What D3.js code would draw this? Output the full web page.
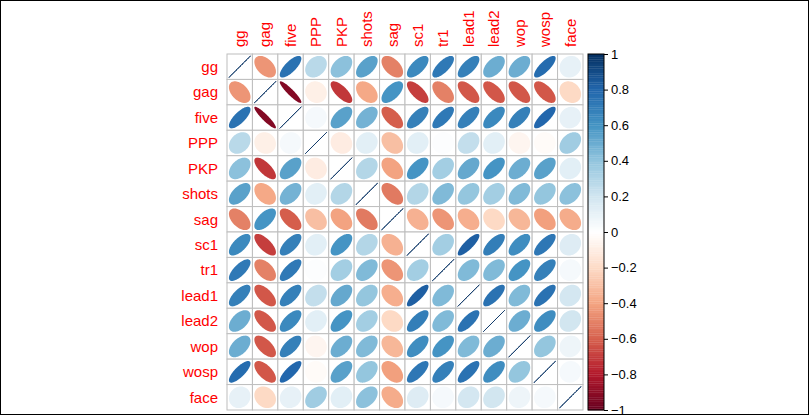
<!DOCTYPE html>
<html><head><meta charset="utf-8">
<script src="https://cdn.jsdelivr.net/npm/d3@7"></script>
<style>body{margin:0;background:#fff}svg{display:block}</style>
</head><body>
<svg id="chart" width="809" height="415"></svg>
<script>
const vars = ["gg","gag","five","PPP","PKP","shots","sag","sc1","tr1","lead1","lead2","wop","wosp","face"];
const r_gg    = [1, -0.45, 0.75, 0.28, 0.42, 0.55, -0.5, 0.65, 0.72, 0.68, 0.5, 0.5, 0.78, 0.1];
const r_gag   = [-0.45, 1, -0.92, -0.08, -0.72, -0.38, 0.6, -0.7, -0.5, -0.62, -0.62, -0.62, -0.62, -0.2];
const r_five  = [0.75, -0.92, 1, 0.05, 0.55, 0.48, -0.6, 0.68, 0.72, 0.68, 0.65, 0.68, 0.8, 0.1];
const r_PPP   = [0.28, -0.08, 0.05, 1, -0.1, 0.12, -0.3, 0.12, 0.02, 0.25, 0.13, -0.05, -0.02, 0.36];
const r_PKP   = [0.42, -0.72, 0.55, -0.1, 1, 0.3, -0.4, 0.6, 0.35, 0.52, 0.6, 0.5, 0.55, 0.13];
const r_shots = [0.55, -0.38, 0.48, 0.12, 0.3, 1, -0.52, 0.3, 0.45, 0.4, 0.35, 0.45, 0.4, 0.42];
const r_sag   = [-0.5, 0.6, -0.6, -0.3, -0.4, -0.52, 1, -0.35, -0.45, -0.36, -0.2, -0.33, -0.42, -0.37];
const r_sc1   = [0.65, -0.7, 0.68, 0.12, 0.6, 0.3, -0.35, 1, 0.35, 0.83, 0.7, 0.63, 0.73, 0.15];
const r_tr1   = [0.72, -0.5, 0.72, 0.02, 0.35, 0.45, -0.45, 0.35, 1, 0.45, 0.45, 0.6, 0.68, 0.05];
const r_lead1 = [0.68, -0.62, 0.68, 0.25, 0.52, 0.4, -0.36, 0.83, 0.45, 1, 0.75, 0.45, 0.75, 0.19];
const r_lead2 = [0.5, -0.62, 0.65, 0.13, 0.6, 0.35, -0.2, 0.7, 0.45, 0.75, 1, 0.5, 0.63, 0.2];
const r_wop   = [0.5, -0.62, 0.68, -0.05, 0.5, 0.45, -0.33, 0.63, 0.6, 0.45, 0.5, 1, 0.4, 0.08];
const r_wosp  = [0.78, -0.62, 0.8, -0.02, 0.55, 0.4, -0.42, 0.73, 0.68, 0.75, 0.63, 0.4, 1, 0.05];
const r_face  = [0.1, -0.2, 0.1, 0.36, 0.13, 0.42, -0.37, 0.15, 0.05, 0.19, 0.2, 0.08, 0.05, 1];
const corr = [r_gg,r_gag,r_five,r_PPP,r_PKP,r_shots,r_sag,r_sc1,r_tr1,r_lead1,r_lead2,r_wop,r_wosp,r_face];
const legendTicks = [1,0.8,0.6,0.4,0.2,0,-0.2,-0.4,-0.6,-0.8,-1];
const palette = ["#67001F","#B2182B","#D6604D","#F4A582","#FDDBC7","#FFFFFF","#D1E5F0","#92C5DE","#4393C3","#2166AC","#053061"];

const svg = d3.select("#chart");
const gLeft = 227, gTop = 54, gSize = 356;
const x = d3.scaleBand().domain(vars).range([gLeft, gLeft+gSize]);
const y = d3.scaleBand().domain(vars).range([gTop, gTop+gSize]);
const cell = x.bandwidth();
const ramp = d3.scaleLinear().domain(d3.range(11).map(i => -1 + i*0.2)).range(palette).interpolate(d3.interpolateRgb);
const N = 200;
const colorOf = v => { let k = Math.ceil((v+1)*N/2); k = Math.max(1, Math.min(N, k)); return ramp(-1 + (k-0.5)*2/N); };

svg.append("rect").attr("x",0.5).attr("y",0.5).attr("width",808).attr("height",414)
  .attr("fill","none").attr("stroke","#000");

const cells = [];
corr.forEach((row,i) => row.forEach((v,j) => cells.push({i,j,v})));

const g = svg.append("g");
g.selectAll("rect.cell").data(cells).enter().append("rect")
  .attr("x", d => x(vars[d.j])).attr("y", d => y(vars[d.i]))
  .attr("width", cell).attr("height", cell)
  .attr("fill","#fff").attr("stroke","#BEBEBE").attr("stroke-width",1);

function ellPath(r){
  const a = Math.acos(Math.max(-1,Math.min(1,r)));
  const pts = d3.range(0, 100).map(k => {
    const t = k/99*2*Math.PI;
    return [0.85*Math.cos(t + a/2)/2*cell, -0.85*Math.cos(t - a/2)/2*cell];
  });
  return d3.line()(pts) + "Z";
}
g.selectAll("path.ell").data(cells).enter().append("path")
  .attr("transform", d => `translate(${x(vars[d.j])+cell/2},${y(vars[d.i])+cell/2})`)
  .attr("d", d => ellPath(d.v))
  .attr("fill", d => colorOf(d.v))
  .attr("stroke", d => d.v >= 0.999 ? colorOf(d.v) : "none")
  .attr("stroke-width", d => d.v >= 0.999 ? 1 : 0);

svg.selectAll("text.row").data(vars).enter().append("text")
  .attr("x", 218).attr("y", d => y(d)+cell/2).attr("dy","0.35em")
  .attr("text-anchor","end").attr("fill","#FF0000")
  .style("font-family","'Liberation Sans', Arial, sans-serif").style("font-size","15px")
  .text(d => d);
svg.selectAll("text.col").data(vars).enter().append("text")
  .attr("transform", d => `translate(${x(d)+cell/2},47) rotate(-90)`)
  .attr("dy","0.35em").attr("text-anchor","start").attr("fill","#FF0000")
  .style("font-family","'Liberation Sans', Arial, sans-serif").style("font-size","15px")
  .text(d => d);

const lx = 588, lw = 16;
const ly = d3.scaleLinear().domain([1,-1]).range([gTop, gTop+gSize]);
const bins = d3.range(N).map(k => -1 + (k+0.5)*2/N);
svg.append("g").selectAll("rect").data(bins).enter().append("rect")
  .attr("x", lx).attr("width", lw)
  .attr("y", d => ly(d + 1/N)).attr("height", gSize/N + 0.3)
  .attr("fill", d => colorOf(d));
svg.append("rect").attr("x",lx).attr("y",gTop).attr("width",lw).attr("height",gSize)
  .attr("fill","none").attr("stroke","#000").attr("stroke-width",1);
const axis = d3.axisRight(ly).tickValues(legendTicks).tickSize(4).tickPadding(3)
  .tickFormat(d => d3.format("")(Math.round(d*10)/10));
const ag = svg.append("g").attr("transform",`translate(${lx+lw},0)`).call(axis);
ag.select(".domain").remove();
ag.selectAll("text").style("font-family","'Liberation Sans', Arial, sans-serif").style("font-size","13px").attr("fill","#000");
</script>
</body></html>
